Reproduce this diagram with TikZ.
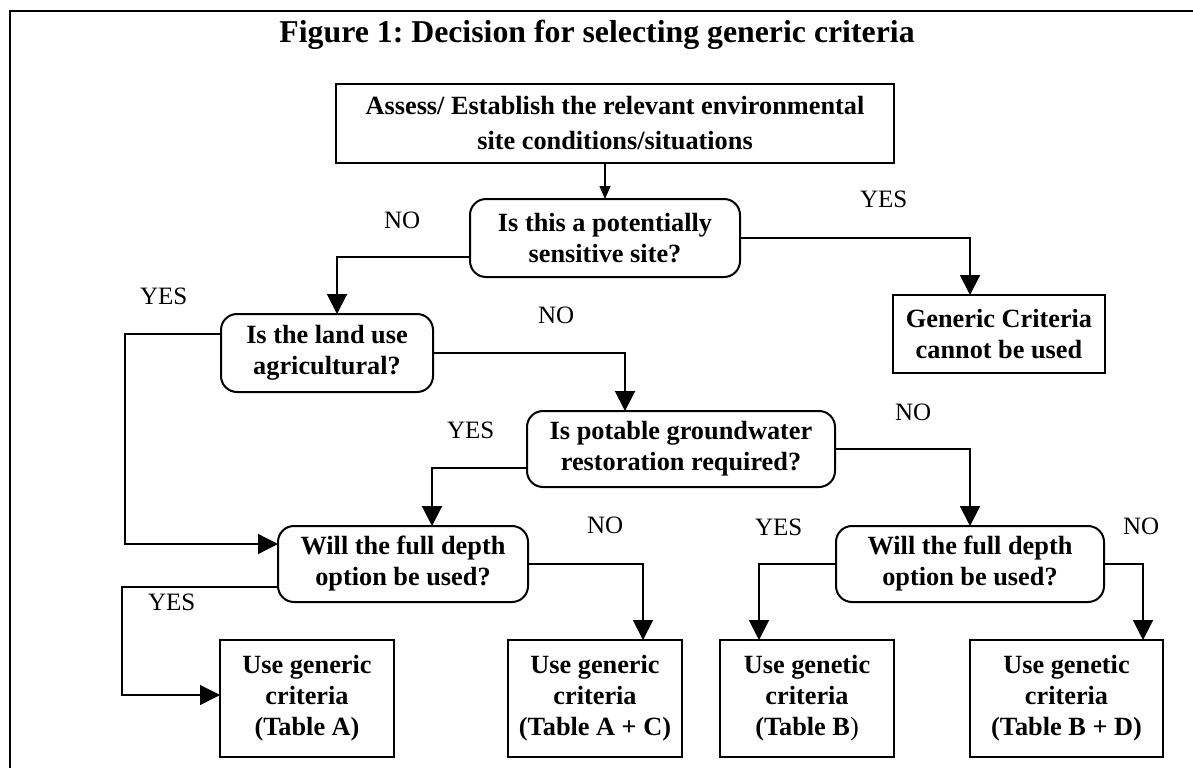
\documentclass[tikz,border=0pt]{standalone}
\usepackage{fontspec}
\setmainfont{Liberation Serif}
\usetikzlibrary{arrows.meta}
\frenchspacing
\begin{document}
\begin{tikzpicture}[x=1pt,y=-1pt,
  every node/.style={inner sep=0pt,outer sep=0pt},
  boxtxt/.style={font=\fontsize{26.3}{31}\selectfont\bfseries, align=center},
  procbox/.style={boxtxt, draw, line width=2pt, rectangle},
  decbox/.style={boxtxt, draw, line width=2pt, rounded corners=16pt},
  lbl/.style={font=\fontsize{25}{30}\selectfont, anchor=base west},
  conn/.style={line width=2pt, -{Triangle[length=20pt,width=20pt]}},
  thinconn/.style={line width=1.3pt, -{Triangle[length=20pt,width=20pt]}},
  smallconn/.style={line width=1.3pt, -{Triangle[length=13pt,width=11pt]}},
]
\useasboundingbox (0,0) rectangle (1193,768);
% frame
\draw[line width=2pt] (10,768) -- (10,11) -- (1193,11);

% title
\node[font=\fontsize{31.8}{38}\selectfont\bfseries, anchor=base] (title) at (597,43) {Figure 1: Decision for selecting generic criteria};

% nodes
\node[procbox, font=\fontsize{26.3}{35}\selectfont\bfseries, minimum width=558pt, minimum height=79pt] (top) at (615,123.5) {Assess/ Establish the relevant environmental\\site conditions/situations};
\node[decbox, minimum width=270pt, minimum height=78pt] (d1) at (605,238) {Is this a potentially\\sensitive site?};
\node[procbox, minimum width=212pt, minimum height=78pt] (gc) at (999,334) {Generic Criteria\\cannot be used};
\node[decbox, minimum width=212pt, minimum height=78pt] (d2) at (327,353) {Is the land use\\agricultural?};
\node[decbox, minimum width=308pt, minimum height=76pt] (d3) at (681,449) {Is potable groundwater\\restoration required?};
\node[decbox, minimum width=250pt, minimum height=76pt] (d4) at (403,564) {Will the full depth\\option be used?};
\node[decbox, minimum width=268pt, minimum height=76pt] (d5) at (970,564) {Will the full depth\\option be used?};
\node[procbox, minimum width=174pt, minimum height=117pt] (ta) at (307,698.5) {Use generic\\criteria\\(Table A)};
\node[procbox, minimum width=174pt, minimum height=117pt] (tac) at (595,698.5) {Use generic\\criteria\\(Table A + C)};
\node[procbox, minimum width=174pt, minimum height=117pt] (tb) at (807,698.5) {Use genetic\\criteria\\(Table B{\mdseries)}};
\node[procbox, minimum width=193pt, minimum height=117pt] (tbd) at (1066.5,698.5) {Use genetic\\criteria\\(Table B + D)};

% labels
\node[lbl] (l1) at (384,228) {NO};
\node[lbl] (l2) at (860,207) {YES};
\node[lbl] (l3) at (140,304) {YES};
\node[lbl] (l4) at (538,323) {NO};
\node[lbl] (l5) at (447,438) {YES};
\node[lbl] (l6) at (895,420) {NO};
\node[lbl] (l7) at (587,533) {NO};
\node[lbl] (l8) at (755,535) {YES};
\node[lbl] (l9) at (1123,534) {NO};
\node[lbl] (l10) at (148,610) {YES};

% bend coordinates
\coordinate (c2) at (125,440);
\coordinate (c4) at (122,650);

% connectors
\draw[smallconn] (top.south -| d1.north) -- (d1.north);
\draw[conn] ([yshift=-19pt]d1.west) -| ([xshift=10pt]d2.north);
\draw[conn] (d1.east) -| ([xshift=-29pt]gc.north);
\draw[conn] (d2.east) -| ([xshift=-56pt]d3.north);
\draw[thinconn] ([yshift=19pt]d2.west) -| (c2) |- ([yshift=20pt]d4.west);
\draw[conn] ([yshift=-19pt]d3.west) -| ([xshift=29pt]d4.north);
\draw[conn] (d3.east) -| (d5.north);
\draw[thinconn] ([yshift=-23pt]d4.west) -| (c4) |- ([yshift=3.5pt]ta.west);
\draw[conn] (d4.east) -| ([xshift=48pt]tac.north);
\draw[conn] (d5.west) -| ([xshift=-48pt]tb.north);
\draw[conn] (d5.east) -| ([xshift=76.5pt]tbd.north);
\end{tikzpicture}
\end{document}
